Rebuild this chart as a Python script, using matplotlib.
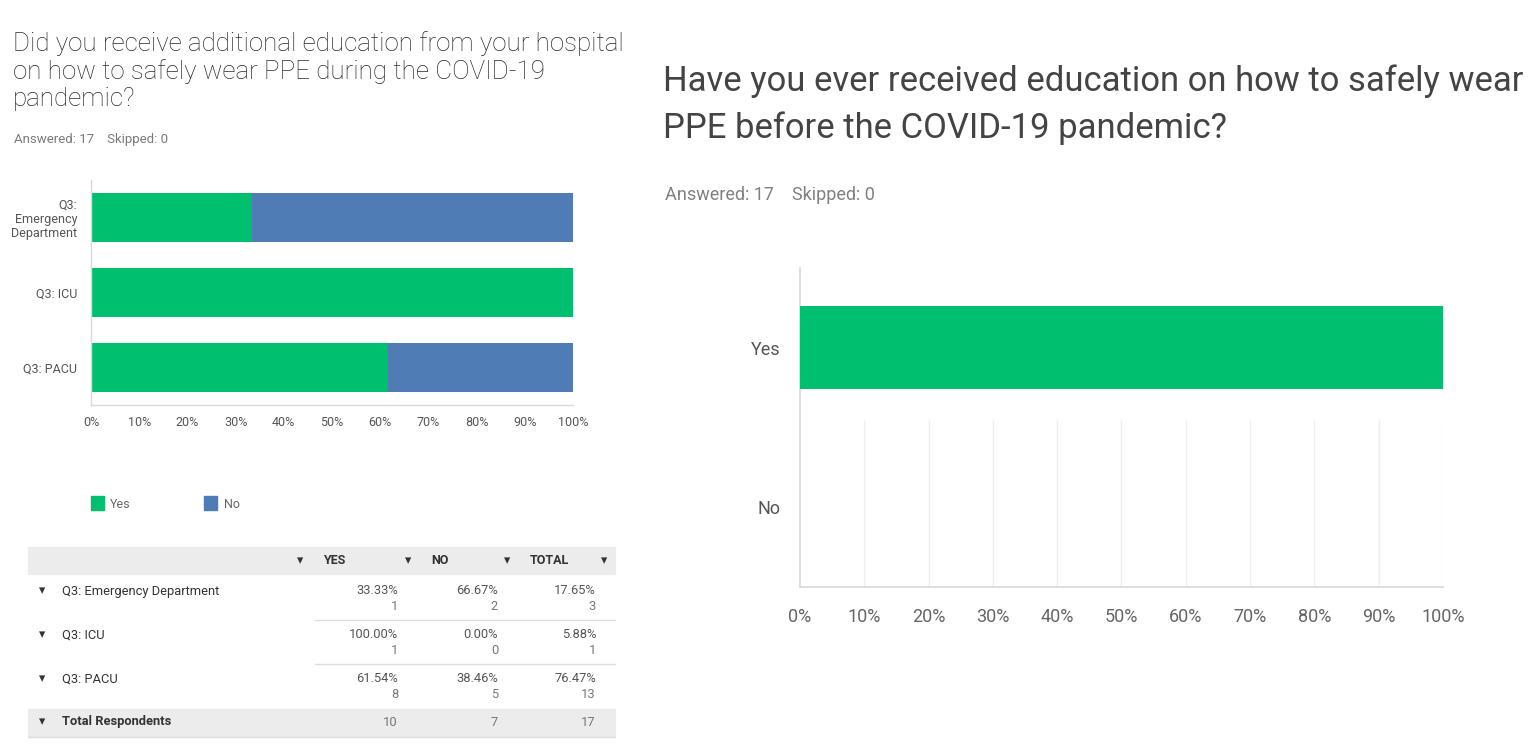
import matplotlib
matplotlib.use("Agg")
import matplotlib.pyplot as plt
from matplotlib.patches import Rectangle

# ---------------- data ----------------
chart_labels = ["Q3:\nEmergency\nDepartment", "Q3: ICU", "Q3: PACU"]
table_labels = ["Q3: Emergency Department", "Q3: ICU", "Q3: PACU"]
yes_pct = [33.33, 100.00, 61.54]
no_pct = [66.67, 0.00, 38.46]
yes_n = [1, 1, 8]
no_n = [2, 0, 5]
total_pct = [17.65, 5.88, 76.47]
total_n = [3, 1, 13]
total_yes, total_no, total_all = 10, 7, 17
x_ticks = [0, 10, 20, 30, 40, 50, 60, 70, 80, 90, 100]

pre_labels = ["Yes", "No"]
pre_pct = [100, 0]

title_left = "Did you receive additional education from your hospital\non how to safely wear PPE during the COVID-19\npandemic?"
title_right = "Have you ever received education on how to safely wear\nPPE before the COVID-19 pandemic?"
answered = "Answered: 17    Skipped: 0"

GREEN = "#00BF6F"
BLUE = "#507CB6"

LFONT = ["Roboto", "DejaVu Sans"]
RFONT = ["Roboto", "DejaVu Sans"]
plt.rcParams["font.family"] = LFONT

W, H = 1537, 747
fig = plt.figure(figsize=(W / 100, H / 100), dpi=100)
fig.patch.set_facecolor("white")

def fx(x):
    return x / W

def fy(y):
    return 1 - y / H

def ftext(x, y, s, **kw):
    kw.setdefault("va", "center")
    fig.text(fx(x), fy(y), s, **kw)

# ---------------- left chart ----------------
ftext(13, 71, title_left, fontsize=18.7, color="#2a2a2a", linespacing=1.16, ha="left", weight="light")
ftext(14, 139, answered, fontsize=9.5, color="#7a7a7a", ha="left")

ax = fig.add_axes([fx(91), fy(405), fx(573 - 91), (405 - 180) / H])
pos = list(range(len(chart_labels)))
ax.barh(pos, yes_pct, height=0.65, color=GREEN, label="Yes")
ax.barh(pos, no_pct, left=yes_pct, height=0.65, color=BLUE, label="No")
ax.set_ylim(2.5, -0.5)
ax.set_xlim(0, 100)
ax.set_yticks(pos)
ax.set_yticklabels(chart_labels, fontsize=9, color="#555555", linespacing=1.12)
ax.set_xticks(x_ticks)
ax.set_xticklabels([f"{t}%" for t in x_ticks], fontsize=9, color="#555555")
ax.tick_params(axis="y", length=0, pad=10)
ax.tick_params(axis="x", length=0, pad=8)
for s in ["top", "right"]:
    ax.spines[s].set_visible(False)
for s in ["left", "bottom"]:
    ax.spines[s].set_color("#d9d9d9")
    ax.spines[s].set_linewidth(1)

# legend
fig.patches.append(Rectangle((fx(91), fy(510)), fx(13), 14 / H, color=GREEN, transform=fig.transFigure))
ftext(110, 504, "Yes", fontsize=9, color="#666666", ha="left")
fig.patches.append(Rectangle((fx(204), fy(510)), fx(13), 14 / H, color=BLUE, transform=fig.transFigure))
ftext(224, 504, "No", fontsize=9, color="#666666", ha="left")

# table
TRI = ["DejaVu Sans"]
fig.patches.append(Rectangle((fx(28), fy(574)), fx(615 - 28), 27 / H, color="#ececec", transform=fig.transFigure, zorder=0))
for xx in [300, 408, 507, 604]:
    ftext(xx, 561, "\u25BE", fontsize=9, color="#333333", ha="center", family=TRI)
ftext(323, 561, "YES", fontsize=9, color="#333333", ha="left", weight="bold")
ftext(431, 561, "NO", fontsize=9, color="#333333", ha="left", weight="bold")
ftext(530, 561, "TOTAL", fontsize=9, color="#333333", ha="left", weight="bold")

row_y = [591, 635, 679]
for i, lab in enumerate(table_labels):
    y = row_y[i]
    ftext(42, y, "\u25BE", fontsize=9, color="#333333", ha="center", family=TRI)
    ftext(62, y, lab, fontsize=9.3, color="#333333", ha="left")
    ftext(398, y, f"{yes_pct[i]:.2f}%", fontsize=9.3, color="#555555", ha="right")
    ftext(398, y + 15, f"{yes_n[i]}", fontsize=9.3, color="#777777", ha="right")
    ftext(498, y, f"{no_pct[i]:.2f}%", fontsize=9.3, color="#555555", ha="right")
    ftext(498, y + 15, f"{no_n[i]}", fontsize=9.3, color="#777777", ha="right")
    ftext(596, y, f"{total_pct[i]:.2f}%", fontsize=9.3, color="#555555", ha="right")
    ftext(596, y + 15, f"{total_n[i]}", fontsize=9.3, color="#777777", ha="right")
    if i < len(table_labels) - 1:
        fig.lines.append(plt.Line2D([fx(315), fx(615)], [fy(y + 29), fy(y + 29)], color="#dddddd", lw=1, transform=fig.transFigure))

fig.patches.append(Rectangle((fx(28), fy(736)), fx(615 - 28), 27 / H, color="#ececec", transform=fig.transFigure, zorder=0))
ftext(42, 722, "\u25BE", fontsize=9, color="#333333", ha="center", family=TRI)
ftext(62, 722, "Total Respondents", fontsize=9.3, color="#333333", ha="left", weight="bold")
ftext(398, 722, f"{total_yes}", fontsize=9.3, color="#777777", ha="right")
ftext(498, 722, f"{total_no}", fontsize=9.3, color="#777777", ha="right")
ftext(596, 722, f"{total_all}", fontsize=9.3, color="#777777", ha="right")
fig.lines.append(plt.Line2D([fx(28), fx(615)], [fy(737), fy(737)], color="#dddddd", lw=1, transform=fig.transFigure))

# ---------------- right chart ----------------
ftext(663, 105, title_right, fontsize=24.9, color="#444444", linespacing=1.5, ha="left", family=RFONT)
ftext(665, 195, answered, fontsize=13, color="#808080", ha="left", family=RFONT)

ax2 = fig.add_axes([fx(800), fy(587), fx(1443 - 800), (587 - 268) / H])
pos2 = list(range(len(pre_labels)))
ax2.barh(pos2, pre_pct, height=0.52, color=GREEN, zorder=3)
ax2.set_ylim(1.5, -0.5)
ax2.set_xlim(0, 100)
ax2.vlines(x_ticks[1:], 0.45, 1.5, color="#eeeeee", lw=1, zorder=1)
ax2.set_yticks(pos2)
ax2.set_yticklabels(pre_labels, fontsize=13, color="#555555", family=RFONT)
ax2.set_xticks(x_ticks)
ax2.set_xticklabels([f"{t}%" for t in x_ticks], fontsize=13, color="#666666", family=RFONT)
ax2.tick_params(axis="y", length=0, pad=14)
ax2.tick_params(axis="x", length=0, pad=15)
for s in ["top", "right"]:
    ax2.spines[s].set_visible(False)
for s in ["left", "bottom"]:
    ax2.spines[s].set_color("#d9d9d9")
    ax2.spines[s].set_linewidth(1.2)

fig.savefig("out.png", dpi=100, facecolor="white")
